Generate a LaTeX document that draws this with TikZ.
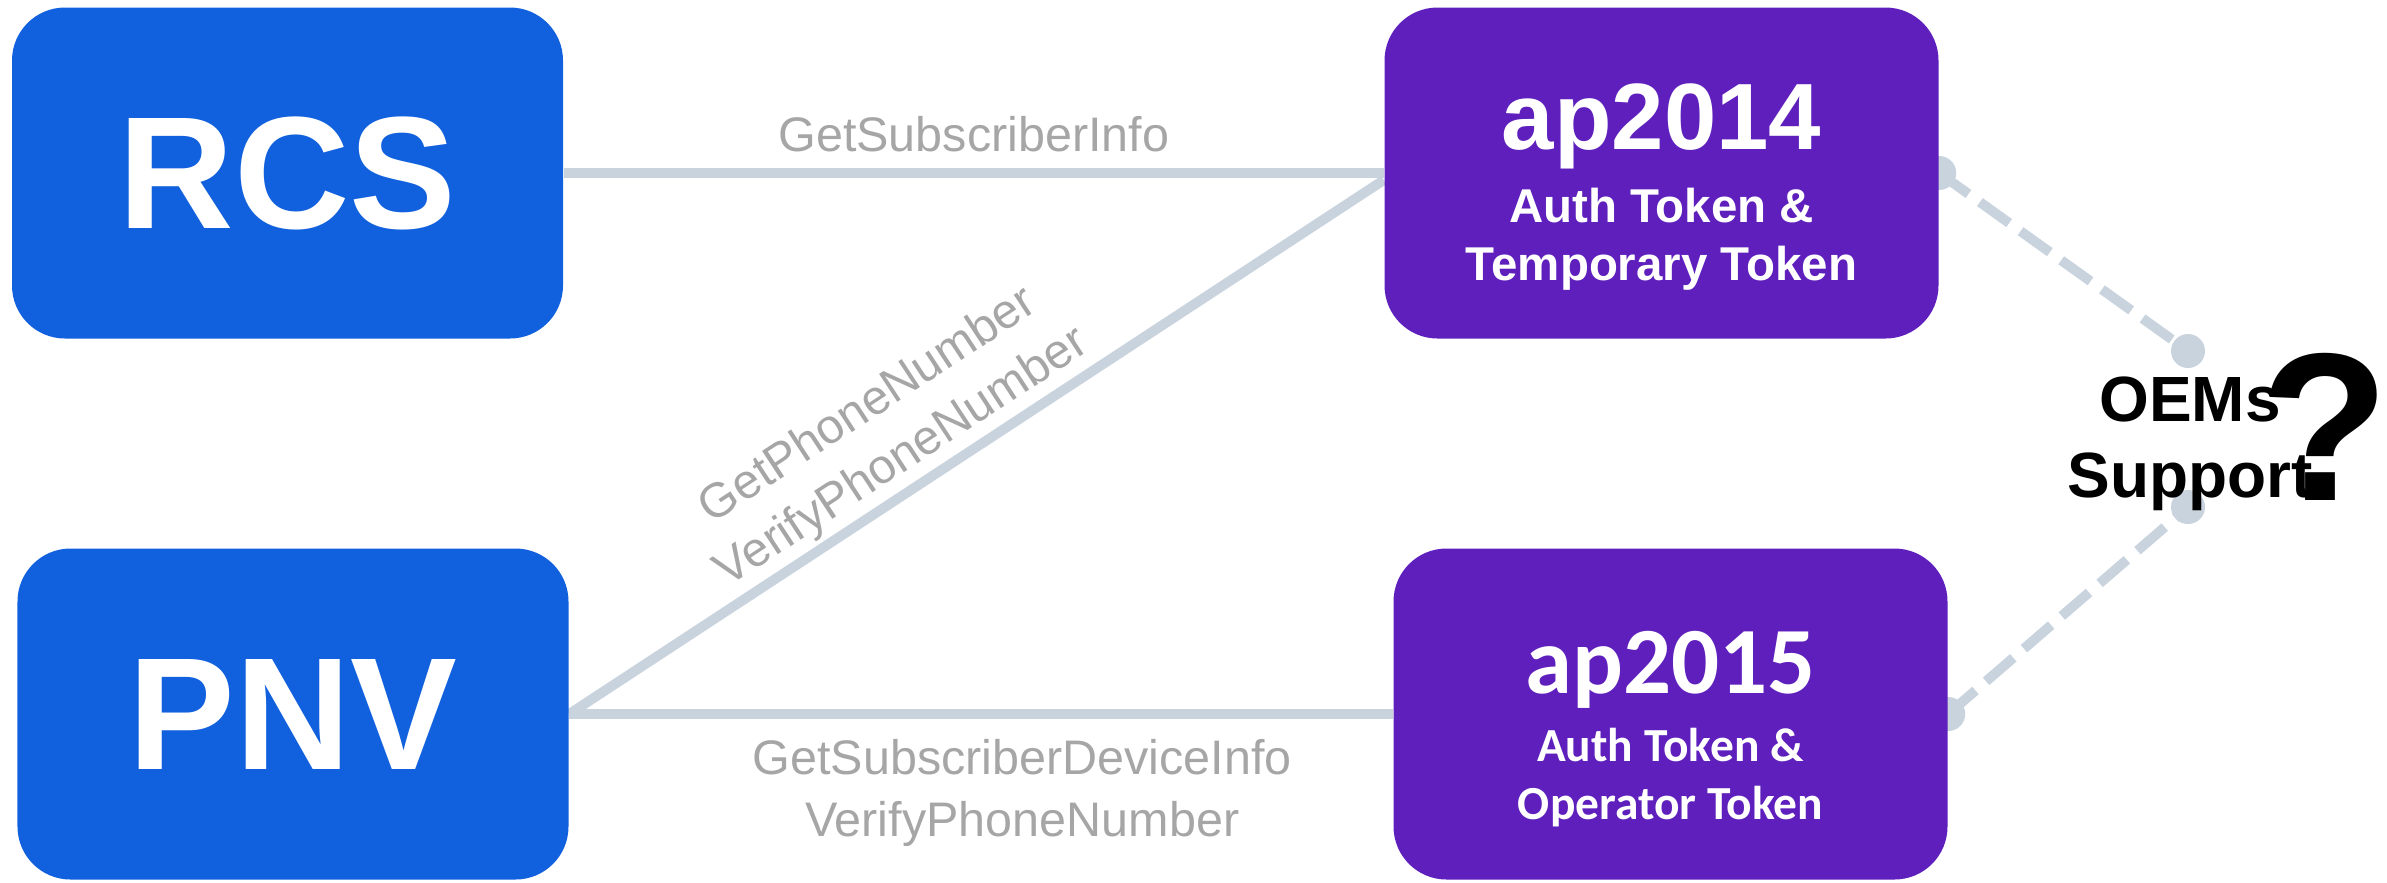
\documentclass[tikz,border=0pt]{standalone}
\usepackage{fontspec}
\setmainfont{Liberation Sans}
\newfontfamily\calibri{Carlito}
\usetikzlibrary{positioning, calc, backgrounds}

\definecolor{rcsblue}{HTML}{1160DD}
\definecolor{appurple}{HTML}{5E1FBD}
\definecolor{linkgray}{HTML}{C8D3DE}
\definecolor{labelgray}{HTML}{A6A6A6}

\begin{document}
\begin{tikzpicture}[
    clientbox/.style={fill=rcsblue, rounded corners=0.53cm, minimum width=5.51cm, minimum height=3.31cm, text=white, font=\fontsize{45.5}{50}\selectfont\bfseries},
    tokenbox/.style={fill=appurple, rounded corners=0.53cm, minimum width=5.54cm, minimum height=3.31cm, text=white, align=center, font=\bfseries\fontsize{13.5}{16.5}\selectfont},
    link/.style={draw=linkgray, line width=2.8pt},
    oemlink/.style={draw=linkgray, line width=2.8pt, dash pattern=on 0.36cm off 0.14cm},
    apilabel/.style={text=labelgray, align=center, font=\fontsize{13.8}{17.6}\selectfont},
    joint/.style={circle, fill=linkgray, minimum size=0.34cm, inner sep=0pt}
]
    \useasboundingbox (0,0) rectangle (23.87,-8.82);

    % callers on the left, token APIs on the right
    \node[clientbox] (rcs) at (2.875,-1.73) {RCS};
    \node[clientbox] (pnv) at (2.93,-7.14) {PNV};
    \node[tokenbox] (ap14) at (16.615,-1.73) {\rule{0pt}{26.7pt}{\fontsize{26.8}{30}\selectfont ap2014}\\[4pt]Auth Token \&\\Temporary Token};
    \node[tokenbox, font=\calibri\bfseries\fontsize{13.5}{16.5}\selectfont] (ap15) at (16.705,-7.14) {\rule{0pt}{26.2pt}{\fontsize{27}{30}\selectfont ap2015}\\[2.8pt]Auth Token \&\\Operator Token};

    % open question on the right
    \node[font=\fontsize{18.2}{21.6}\selectfont\bfseries, align=center] (oems) at (21.90,-4.435) {OEMs\\Support};
    \node[font=\fontsize{60}{60}\selectfont\bfseries, anchor=base, inner sep=0pt] (qmark) at (23.25,-5.00) {?};
    \coordinate (oemtop) at (21.88,-3.51);
    \coordinate (oembot) at (21.88,-5.07);

    % API calls and OEM links sit behind the boxes
    \begin{scope}[on background layer]
        \draw[link] (rcs.east) -- node[apilabel, above=1.2pt] {GetSubscriberInfo} (ap14.west);
        \draw[link] (pnv.east) -- node[apilabel, sloped, above=0pt, inner sep=1pt, pos=0.43] {GetPhoneNumber\\VerifyPhoneNumber} ([yshift=-0.07cm]ap14.west);
        \draw[link] (pnv.east) -- node[apilabel, below=2.5pt, pos=0.55] {GetSubscriberDeviceInfo\\VerifyPhoneNumber} (ap15.west);
        \draw[oemlink] (ap14.east) -- (oemtop);
        \draw[oemlink] (ap15.east) -- (oembot);
        \node[joint] (j14) at (ap14.east) {};
        \node[joint] (j15) at (ap15.east) {};
        \node[joint] (jtop) at (oemtop) {};
        \node[joint] (jbot) at (oembot) {};
    \end{scope}
\end{tikzpicture}
\end{document}
